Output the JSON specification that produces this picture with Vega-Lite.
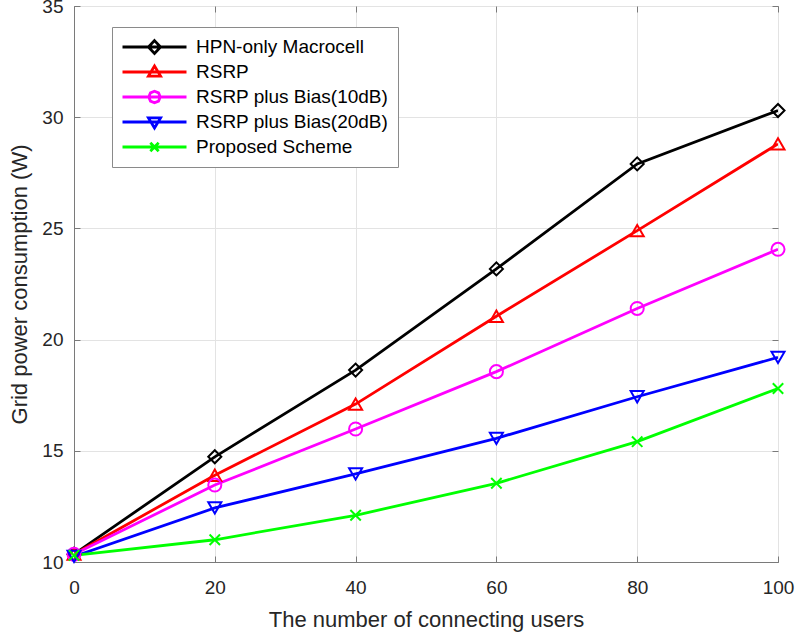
{
  "$schema": "https://vega.github.io/schema/vega-lite/v6.json",
  "width": 704,
  "height": 556,
  "autosize": {"type": "none"},
  "padding": {"left": 74, "top": 6, "right": 20, "bottom": 76},
  "background": "white",
  "config": {
    "view": {"stroke": "#7a7a7a", "strokeWidth": 1},
    "font": "Liberation Sans",
    "point": {"filled": false, "strokeWidth": 2, "size": 170, "opacity": 1},
    "axis": {
      "labelFont": "Liberation Sans",
      "labelFontSize": 19,
      "labelColor": "#262626",
      "titleFont": "Liberation Sans",
      "titleFontSize": 22,
      "titleFontWeight": "normal",
      "titleColor": "#262626",
      "domainColor": "#7a7a7a",
      "tickColor": "#7a7a7a",
      "gridColor": "#e3e3e3",
      "gridWidth": 1
    }
  },
  "data": {
    "values": [
      {"series": "HPN-only Macrocell", "users": 0, "power": 10.35},
      {"series": "HPN-only Macrocell", "users": 20, "power": 14.73},
      {"series": "HPN-only Macrocell", "users": 40, "power": 18.63},
      {"series": "HPN-only Macrocell", "users": 60, "power": 23.18},
      {"series": "HPN-only Macrocell", "users": 80, "power": 27.9},
      {"series": "HPN-only Macrocell", "users": 100, "power": 30.3},
      {"series": "RSRP", "users": 0, "power": 10.35},
      {"series": "RSRP", "users": 20, "power": 13.9},
      {"series": "RSRP", "users": 40, "power": 17.1},
      {"series": "RSRP", "users": 60, "power": 21.05},
      {"series": "RSRP", "users": 80, "power": 24.9},
      {"series": "RSRP", "users": 100, "power": 28.8},
      {"series": "RSRP plus Bias(10dB)", "users": 0, "power": 10.35},
      {"series": "RSRP plus Bias(10dB)", "users": 20, "power": 13.46},
      {"series": "RSRP plus Bias(10dB)", "users": 40, "power": 15.98},
      {"series": "RSRP plus Bias(10dB)", "users": 60, "power": 18.56},
      {"series": "RSRP plus Bias(10dB)", "users": 80, "power": 21.4},
      {"series": "RSRP plus Bias(10dB)", "users": 100, "power": 24.06},
      {"series": "RSRP plus Bias(20dB)", "users": 0, "power": 10.25},
      {"series": "RSRP plus Bias(20dB)", "users": 20, "power": 12.43},
      {"series": "RSRP plus Bias(20dB)", "users": 40, "power": 13.96},
      {"series": "RSRP plus Bias(20dB)", "users": 60, "power": 15.56},
      {"series": "RSRP plus Bias(20dB)", "users": 80, "power": 17.43},
      {"series": "RSRP plus Bias(20dB)", "users": 100, "power": 19.2},
      {"series": "Proposed Scheme", "users": 0, "power": 10.3},
      {"series": "Proposed Scheme", "users": 20, "power": 11.0},
      {"series": "Proposed Scheme", "users": 40, "power": 12.1},
      {"series": "Proposed Scheme", "users": 60, "power": 13.54},
      {"series": "Proposed Scheme", "users": 80, "power": 15.41},
      {"series": "Proposed Scheme", "users": 100, "power": 17.8}
    ]
  },
  "encoding": {
    "x": {"field": "users", "type": "quantitative", "scale": {"domain": [0, 100], "nice": false}, "axis": null},
    "y": {"field": "power", "type": "quantitative", "scale": {"domain": [10, 35], "nice": false, "zero": false}, "axis": null}
  },
  "resolve": {"axis": {"x": "independent", "y": "independent"}},
  "layer": [
    {
      "mark": {"type": "line", "strokeWidth": 2.8, "clip": true},
      "encoding": {
        "x": {
          "field": "users", "type": "quantitative",
          "axis": {
            "title": "The number of connecting users",
            "values": [0, 20, 40, 60, 80, 100],
            "tickSize": -6, "labelPadding": 22, "titlePadding": 12,
            "labelFlush": false
          }
        },
        "y": {
          "field": "power", "type": "quantitative",
          "axis": {
            "title": "Grid power consumption (W)",
            "values": [10, 15, 20, 25, 30, 35],
            "tickSize": -6, "labelPadding": 17, "titlePadding": 10,
            "labelFlush": false
          }
        },
        "color": {
          "field": "series", "type": "nominal",
          "scale": {
            "domain": ["HPN-only Macrocell", "RSRP", "RSRP plus Bias(10dB)", "RSRP plus Bias(20dB)", "Proposed Scheme"],
            "range": ["#000000", "#ff0000", "#ff00ff", "#0000ff", "#00ff00"]
          },
          "legend": {
            "title": null,
            "orient": "none",
            "legendX": 38,
            "legendY": 21,
            "padding": 9,
            "strokeColor": "#8a8a8a",
            "fillColor": "white",
            "labelFont": "Liberation Sans",
            "labelFontSize": 19,
            "labelColor": "#000000",
            "labelLimit": 400,
            "labelOffset": 8,
            "symbolSize": 4096,
            "symbolStrokeWidth": 2.8,
            "clipHeight": 22,
            "rowPadding": 3,
            "encode": {
              "symbols": {
                "update": {
                  "fill": {"value": "transparent"},
                  "shape": {"signal": "['M-1,0L1,0M0,-0.2L0.19,0L0,0.2L-0.19,0Z','M-1,0L1,0M0,-0.19L0.19,0.13L-0.19,0.13Z','M-1,0L1,0M0.18,0L0.127,0.127L0,0.18L-0.127,0.127L-0.18,0L-0.127,-0.127L0,-0.18L0.127,-0.127Z','M-1,0L1,0M0,0.19L0.19,-0.13L-0.19,-0.13Z','M-1,0L1,0M-0.13,-0.13L0.13,0.13M0.13,-0.13L-0.13,0.13'][indexof(['HPN-only Macrocell','RSRP','RSRP plus Bias(10dB)','RSRP plus Bias(20dB)','Proposed Scheme'], datum.value)]"}
                }
              }
            }
          }
        }
      }
    },
    {
      "transform": [{"filter": "datum.series === 'HPN-only Macrocell'"}],
      "mark": {"type": "point", "shape": "diamond", "stroke": "#000000"}
    },
    {
      "transform": [{"filter": "datum.series === 'RSRP'"}],
      "mark": {"type": "point", "shape": "triangle-up", "stroke": "#ff0000"}
    },
    {
      "transform": [{"filter": "datum.series === 'RSRP plus Bias(10dB)'"}],
      "mark": {"type": "point", "shape": "circle", "stroke": "#ff00ff"}
    },
    {
      "transform": [{"filter": "datum.series === 'RSRP plus Bias(20dB)'"}],
      "mark": {"type": "point", "shape": "triangle-down", "stroke": "#0000ff"}
    },
    {
      "transform": [{"filter": "datum.series === 'Proposed Scheme'"}],
      "mark": {"type": "point", "shape": "M-0.8,-0.8L0.8,0.8M0.8,-0.8L-0.8,0.8", "stroke": "#00ff00"}
    },
    {
      "mark": {"type": "point", "opacity": 0},
      "encoding": {
        "x": {
          "field": "users", "type": "quantitative",
          "axis": {"orient": "top", "title": null, "labels": false, "grid": false, "domain": false, "values": [0, 20, 40, 60, 80, 100], "tickSize": -6}
        },
        "y": {
          "field": "power", "type": "quantitative",
          "axis": {"orient": "right", "title": null, "labels": false, "grid": false, "domain": false, "values": [10, 15, 20, 25, 30, 35], "tickSize": -6}
        }
      }
    }
  ]
}
